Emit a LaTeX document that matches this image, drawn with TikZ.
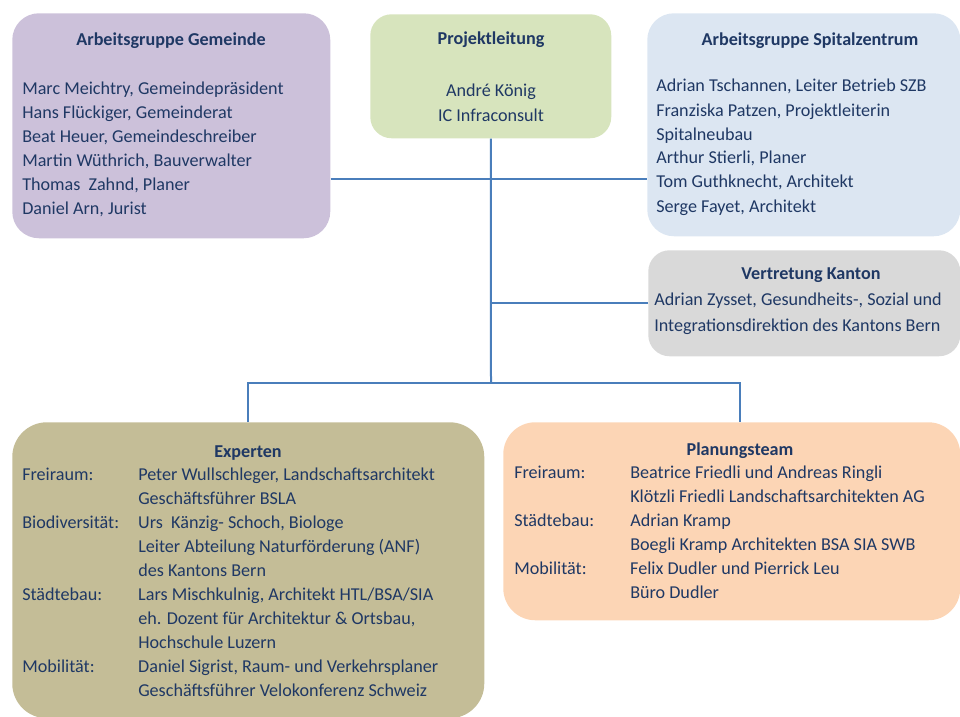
\documentclass[tikz,border=0pt]{standalone}
\usepackage{fontspec}
\setmainfont{Carlito}
\usepackage{xcolor}
\definecolor{navy}{HTML}{1F3864}
\definecolor{linie}{HTML}{4A7EBB}
\definecolor{lila}{HTML}{CCC1DA}
\definecolor{gruen}{HTML}{D7E4BD}
\definecolor{hellblau}{HTML}{DCE6F2}
\definecolor{grau}{HTML}{D9D9D9}
\definecolor{oliv}{HTML}{C4BD97}
\definecolor{pfirsich}{HTML}{FCD5B5}

\begin{document}
\begin{tikzpicture}[x=0.75pt,y=-0.75pt]
\tikzstyle{box}=[anchor=north west, inner sep=0pt, rounded corners=20pt]
\tikzstyle{hd}=[anchor=base, inner sep=0pt, text=navy, font=\fontsize{13.6}{18}\selectfont\bfseries]
\tikzstyle{txt}=[anchor=base west, inner sep=0pt, text=navy, font=\fontsize{13.6}{18}\selectfont]
\tikzstyle{ctxt}=[anchor=base, inner sep=0pt, text=navy, font=\fontsize{13.6}{18}\selectfont]
\tikzstyle{con}=[draw=linie, line width=1.5pt]
\useasboundingbox (0,0) rectangle (960,717);

\node (gem) [box, fill=lila, minimum width=238.5pt, minimum height=168.75pt] at (12,13) {};
\node (pl) [box, fill=gruen, minimum width=180.75pt, minimum height=93pt, rounded corners=16pt] at (370,14) {};
\node (spz) [box, fill=hellblau, minimum width=234.75pt, minimum height=167.25pt] at (647,13) {};
\node (kan) [box, fill=grau, minimum width=234pt, minimum height=79.5pt, rounded corners=16pt] at (648,250) {};
\node (exp) [box, fill=oliv, minimum width=354pt, minimum height=222pt, rounded corners=26pt] at (12,422) {};
\node (plt) [box, fill=pfirsich, minimum width=342.75pt, minimum height=148.5pt, rounded corners=24pt] at (503,422) {};

% Arbeitsgruppe Gemeinde
\node (tgem) [hd] at (171,46) {Arbeitsgruppe Gemeinde};
\node (lgem) [txt] at (22,94) {\begin{tabular}[t]{@{}l@{}}
Marc Meichtry, Gemeindepräsident\\
Hans Flückiger, Gemeinderat\\
Beat Heuer, Gemeindeschreiber\\
Martin Wüthrich, Bauverwalter\\
Thomas\ \ Zahnd, Planer\\
Daniel Arn, Jurist
\end{tabular}};

% Projektleitung
\node (tpl) [hd] at (491,45) {Projektleitung};
\node (lpl) [ctxt] at (491,97) {\begin{tabular}[t]{@{}c@{}}
André König\\
IC Infraconsult
\end{tabular}};

% Arbeitsgruppe Spitalzentrum
\node (tspz) [hd] at (810,46) {Arbeitsgruppe Spitalzentrum};
\node (lspz) [txt] at (656,92) {\begin{tabular}[t]{@{}l@{}}
Adrian Tschannen, Leiter Betrieb SZB\\
Franziska Patzen, Projektleiterin\\
Spitalneubau\\
Arthur Stierli, Planer\\
Tom Guthknecht, Architekt\\
Serge Fayet, Architekt
\end{tabular}};

% Vertretung Kanton
\node (tkan) [hd] at (811,279) {Vertretung Kanton};
\node (lkan) [txt, font=\fontsize{13.6}{19.5}\selectfont] at (654,305) {\begin{tabular}[t]{@{}l@{}}
Adrian Zysset, Gesundheits-, Sozial und\\
Integrationsdirektion des Kantons Bern
\end{tabular}};

% Experten
\node (texp) [hd] at (248,457) {Experten};
\node (lexp) [txt] at (22,480) {\begin{tabular}[t]{@{}p{87pt}@{}l@{}}
Freiraum: & Peter Wullschleger, Landschaftsarchitekt\\
 & Geschäftsführer BSLA\\
Biodiversität: & Urs\ \ Känzig- Schoch, Biologe\\
 & Leiter Abteilung Naturförderung (ANF)\\
 & des Kantons Bern\\
Städtebau: & Lars Mischkulnig, Architekt HTL/BSA/SIA\\
 & eh. Dozent für Architektur \& Ortsbau,\\
 & Hochschule Luzern\\
Mobilität: & Daniel Sigrist, Raum- und Verkehrsplaner\\
 & Geschäftsführer Velokonferenz Schweiz
\end{tabular}};

% Planungsteam
\node (tplt) [hd] at (740,455) {Planungsteam};
\node (lplt) [txt] at (514,478) {\begin{tabular}[t]{@{}p{87pt}@{}l@{}}
Freiraum: & Beatrice Friedli und Andreas Ringli\\
 & Klötzli Friedli Landschaftsarchitekten AG\\
Städtebau: & Adrian Kramp\\
 & Boegli Kramp Architekten BSA SIA SWB\\
Mobilität: & Felix Dudler und Pierrick Leu\\
 & Büro Dudler
\end{tabular}};

% Verbindungen
\coordinate (j1) at (491,179);
\coordinate (hub) at (491,383);
\path[con] (gem.east |- j1) -- (spz.west |- j1);
\path[con] (pl.south) -- (hub);
\path[con] (kan.west) -- (kan.west -| pl.south);
\path[con] (exp.north) |- (hub);
\path[con] (hub) -| (tplt |- plt.north);
\end{tikzpicture}
\end{document}
